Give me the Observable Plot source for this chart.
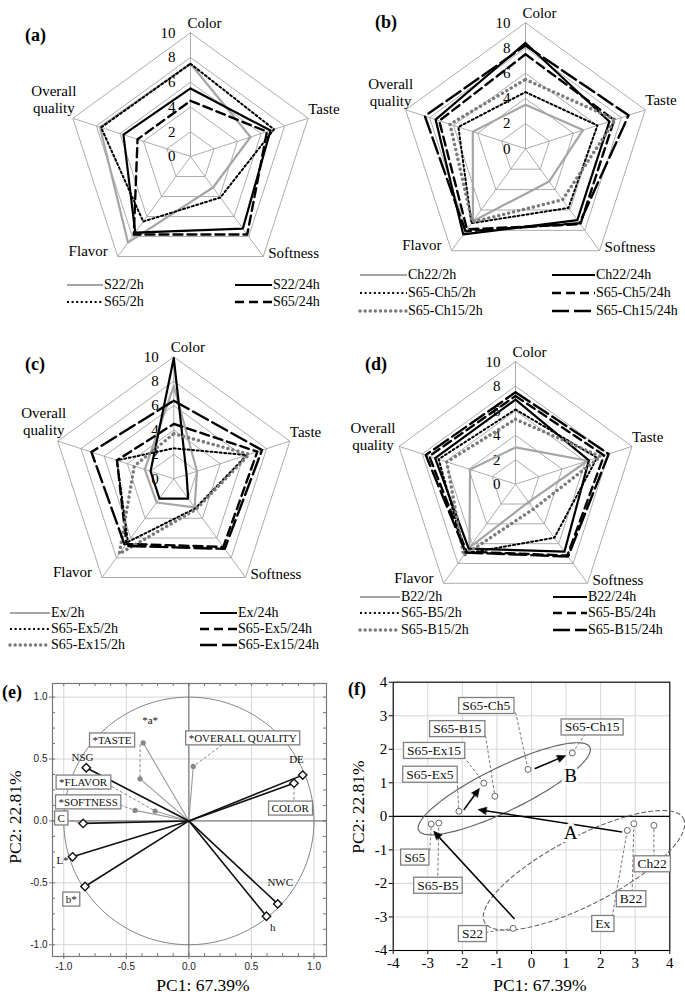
<!DOCTYPE html>
<html><head><meta charset="utf-8">
<script src="https://cdn.jsdelivr.net/npm/d3@7"></script>
<script src="https://cdn.jsdelivr.net/npm/@observablehq/plot@0.6"></script>
<style>
body{margin:0;background:#fff;}
#page{position:relative;width:685px;height:997px;overflow:hidden;font-family:'Liberation Serif','Times New Roman',serif;color:#000;}
.panel{position:absolute;}
.plabel{position:absolute;font-weight:bold;font-size:18px;line-height:18px;}
.leg{position:absolute;font-size:14px;line-height:18px;white-space:nowrap;}
.axlab{position:absolute;font-size:17.5px;line-height:20px;white-space:nowrap;transform:translate(-50%,-50%);}
</style></head><body><div id="page"></div>
<script>
// ---------------- DATA ----------------
const attributes = ["Color", "Taste", "Softness", "Flavor", "Overall quality"];
const ringValues = [2, 4, 6, 8, 10];
const radialTicks = [0, 2, 4, 6, 8, 10];

// (a) values per attribute [Color, Taste, Softness, Flavor, Overall quality]
const namesA = ["S22/2h", "S22/24h", "S65/2h", "S65/24h"];
const S22_2h = [7.5, 5.1, 3.1, 8.6, 7.7];
const S22_24h = [5.5, 6.8, 7.2, 7.6, 5.7];
const S65_2h = [7.5, 7.1, 4.1, 6.5, 7.6];
const S65_24h = [4.5, 6.5, 7.8, 7.8, 4.5];

// (b)
const namesB = ["Ch22/2h", "Ch22/24h", "S65-Ch5/2h", "S65-Ch5/24h", "S65-Ch15/2h", "S65-Ch15/24h"];
const Ch22_2h = [3.5, 4.8, 3.2, 7.1, 4.4];
const Ch22_24h = [8.4, 7.0, 7.0, 8.4, 7.5];
const S65Ch5_2h = [4.5, 6.0, 5.8, 7.3, 5.6];
const S65Ch5_24h = [7.5, 7.4, 7.4, 7.9, 7.2];
const S65Ch15_2h = [5.5, 7.5, 5.0, 7.2, 6.3];
const S65Ch15_24h = [8.2, 8.6, 7.3, 8.1, 8.4];

// (c)
const namesC = ["Ex/2h", "Ex/24h", "S65-Ex5/2h", "S65-Ex5/24h", "S65-Ex15/2h", "S65-Ex15/24h"];
const Ex_2h = [7.6, 2.0, 2.9, 2.4, 2.5];
const Ex_24h = [9.9, 1.1, 2.0, 2.0, 2.0];
const S65Ex5_2h = [2.5, 6.3, 3.0, 6.4, 4.9];
const S65Ex5_24h = [4.5, 7.2, 6.9, 6.6, 4.9];
const S65Ex15_2h = [3.7, 6.5, 3.1, 7.6, 3.4];
const S65Ex15_24h = [6.4, 7.6, 7.1, 6.8, 7.1];

// (d)
const namesD = ["B22/2h", "B22/24h", "S65-B5/2h", "S65-B5/24h", "S65-B15/2h", "S65-B15/24h"];
const B22_2h = [3.0, 6.2, 1.8, 6.4, 3.9];
const B22_24h = [6.9, 6.3, 6.8, 6.5, 6.9];
const S65B5_2h = [6.1, 7.0, 5.4, 7.0, 6.6];
const S65B5_24h = [7.2, 7.6, 7.2, 6.8, 7.4];
const S65B15_2h = [5.3, 7.3, 2.5, 7.2, 5.9];
const S65B15_24h = [7.5, 8.0, 7.3, 6.9, 7.7];

// (e) PCA loadings
const loadNames = ["NSG", "C", "L*", "b*", "DE", "COLOR", "NWC", "h"];
const loadPC1 = [-0.82, -0.845, -0.93, -0.83, 0.91, 0.84, 0.71, 0.62];
const loadPC2 = [0.43, -0.02, -0.29, -0.53, 0.37, 0.305, -0.67, -0.77];
const suppNames = ["*a*", "*TASTE", "*FLAVOR", "*SOFTNESS", "*OVERALL QUALITY"];
const suppPC1 = [-0.365, -0.39, -0.27, -0.43, 0.035];
const suppPC2 = [0.63, 0.34, 0.08, 0.085, 0.44];
const ticksE = [-1, -0.5, 0, 0.5, 1];
const minorTicksE = [-1, -0.875, -0.75, -0.625, -0.5, -0.375, -0.25, -0.125, 0, 0.125, 0.25, 0.375, 0.5, 0.625, 0.75, 0.875, 1];

// (f) PCA scores
const sampleNames = ["S22", "S65", "S65-B5", "S65-Ex5", "S65-Ex15", "S65-B15", "S65-Ch5", "S65-Ch15", "Ex", "B22", "Ch22"];
const scorePC1 = [-0.53, -2.9, -2.68, -2.1, -1.38, -1.06, -0.1, 1.18, 2.77, 2.96, 3.54];
const scorePC2 = [-3.34, -0.23, -0.2, 0.15, 0.99, 0.6, 1.4, 1.89, -0.42, -0.22, -0.27];
const ticksF = [-4, -3, -2, -1, 0, 1, 2, 3, 4];
const groupLabels = ["A", "B"];

// ---------------- LAYOUT (positions, not data) ----------------
const loadLabelX = [-0.85, -1.02, -1.01, -0.94, 0.86, 0.81, 0.73, 0.67];
const loadLabelY = [0.51, 0.02, -0.32, -0.635, 0.50, 0.10, -0.50, -0.86];
const loadBoxed = [false, true, false, true, false, true, false, false];
const loadLeadX = [null, -0.98, null, null, null, 0.84, null, null];
const loadLeadY = [null, 0.01, null, null, null, 0.13, null, null];
const suppLabelX = [-0.31, -0.615, -0.845, -0.805, 0.43];
const suppLabelY = [0.81, 0.65, 0.31, 0.15, 0.667];
const suppBoxed = [false, true, true, true, true];
const suppLeadX = [null, -0.39, -0.62, -0.55, 0.30];
const suppLeadY = [null, 0.62, 0.28, 0.13, 0.64];

const sampLabelX = [-1.71, -3.38, -2.71, -2.94, -2.82, -2.15, -1.31, 1.75, 2.06, 2.88, 3.49];
const sampLabelY = [-3.5, -1.22, -2.06, 1.25, 1.96, 2.61, 3.30, 2.66, -3.2, -2.46, -1.42];
const sampLeadX = [-1.33, -2.94, -2.71, -2.15, -1.96, -1.33, -0.46, 1.56, 2.33, 2.91, 3.54];
const sampLeadY = [-3.46, -1.02, -1.77, 1.07, 1.78, 2.41, 3.1, 2.46, -3.01, -2.26, -1.22];
const arrowX1 = [-0.49, 2.62, -1.96, 0.09];
const arrowY1 = [-3.06, -0.47, 0.19, 1.42];
const arrowX2 = [-2.78, -1.47, -1.55, 0.92];
const arrowY2 = [-0.5, 0.19, 0.77, 1.78];
const groupLabelX = [1.13, 1.13];
const groupLabelY = [-0.5, 1.2];
// ellipses: center, two conjugate half-axes (data units)
const ellCx = [1.52, -0.787], ellCy = [-1.61, 0.822];
const ellUx = [2.88, 2.475], ellUy = [1.54, 1.24];
const ellVx = [0.452, 0.279], ellVy = [-0.90, -0.59];

const lineStyles = [
  {stroke: "#a5a5a5", strokeWidth: 2.2},
  {stroke: "#000000", strokeWidth: 2.2},
  {stroke: "#000000", strokeWidth: 2, strokeDasharray: "2,2.6"},
  {stroke: "#000000", strokeWidth: 2.4, strokeDasharray: "9,5"},
  {stroke: "#7a7a7a", strokeWidth: 3.4, strokeDasharray: "0.1,5", strokeLinecap: "round"},
  {stroke: "#000000", strokeWidth: 2.4, strokeDasharray: "17,5"}
];
const serif = "'Liberation Serif', 'Times New Roman', serif";
const sans = "'Liberation Sans', Arial, sans-serif";

const page = document.getElementById("page");
function place(node, left, top) {
  const d = document.createElement("div");
  d.className = "panel";
  d.style.left = left + "px"; d.style.top = top + "px";
  d.appendChild(node); page.appendChild(d);
  return node;
}
function html(s) { page.insertAdjacentHTML("beforeend", s); }

// ---------------- RADAR ----------------
function radarPlot(p) {
  const k = p.R / 10;
  const ang = i => (90 - 72 * i) * Math.PI / 180;
  const px = (v, i) => v * Math.cos(ang(i));
  const py = (v, i) => v * Math.sin(ang(i));
  const loop = [0, 1, 2, 3, 4, 0];
  const ringPts = ringValues.flatMap(v => loop.map(i => ({ring: v, x: px(v, i), y: py(v, i)})));
  const marks = [
    Plot.line(ringPts, {x: "x", y: "y", z: "ring", stroke: "#a3a3a3", strokeWidth: 0.9}),
    Plot.link(attributes, {x1: () => 0, y1: () => 0, x2: (d, i) => px(10, i), y2: (d, i) => py(10, i), stroke: "#a3a3a3", strokeWidth: 0.9}),
    Plot.text(radialTicks, {x: () => 0, y: d => d, text: d => String(d), textAnchor: "end", dx: -15, fontSize: 15, fontFamily: serif})
  ];
  const lab = [
    {i: 0, dx: 14, dy: -10, a: "middle"},
    {i: 1, dx: 0, dy: -10, a: "start"},
    {i: 2, dx: 5, dy: -4, a: "start"},
    {i: 3, dx: -10, dy: -6, a: "end"},
    {i: 4, dx: p.oqdx, dy: p.oqdy, a: "middle"}
  ];
  lab.forEach(l => marks.push(Plot.text([attributes[l.i]], {
    x: () => px(10, l.i), y: () => py(10, l.i), text: d => d.replace(" ", "\n"),
    textAnchor: l.a, dx: l.dx, dy: l.dy, fontSize: 15, lineHeight: 1.15, fontFamily: serif
  })));
  p.values.forEach((vals, s) => {
    const pts = loop.map(i => ({x: px(vals[i], i), y: py(vals[i], i)}));
    marks.push(Plot.line(pts, {x: "x", y: "y", ...lineStyles[s]}));
  });
  return Plot.plot({
    width: p.width, height: p.height, margin: 0,
    x: {domain: [-p.cx / k, (p.width - p.cx) / k], axis: null},
    y: {domain: [-(p.height - p.cy) / k, p.cy / k], axis: null},
    style: {fontFamily: serif, fontSize: "15px", background: "transparent", overflow: "visible", color: "#000"},
    marks
  });
}
function addLegend(names, g) {
  names.forEach((name, s) => {
    const col = s % 2, row = Math.floor(s / 2);
    const [x0, x1] = col === 0 ? g.left : g.right;
    const y = g.rows[row];
    const st = lineStyles[s];
    html(`<svg width="${x1 - x0}" height="10" style="position:absolute;left:${x0}px;top:${y - 5}px;overflow:visible"><line x1="0" y1="5" x2="${x1 - x0}" y2="5" stroke="${st.stroke}" stroke-width="${st.strokeWidth}" ${st.strokeDasharray ? `stroke-dasharray="${st.strokeDasharray}"` : ""} ${st.strokeLinecap ? `stroke-linecap="${st.strokeLinecap}"` : ""}/></svg>`);
    html(`<div class="leg" style="left:${x1 + 1}px;top:${y - 9}px">${name}</div>`);
  });
}

place(radarPlot({width: 342, height: 272, cx: 190, cy: 156, R: 123.7, oqdx: -19, oqdy: -19,
  values: [S22_2h, S22_24h, S65_2h, S65_24h]}), 0, 0);
addLegend(namesA, {left: [67, 103], right: [235, 272], rows: [285, 302]});

place(radarPlot({width: 343, height: 265, cx: 183, cy: 148.3, R: 126, oqdx: -15, oqdy: -18,
  values: [Ch22_2h, Ch22_24h, S65Ch5_2h, S65Ch5_24h, S65Ch15_2h, S65Ch15_24h]}), 342, 0);
addLegend(namesB, {left: [360, 407], right: [552, 595], rows: [275, 293, 311]});

place(radarPlot({width: 342, height: 280, cx: 173.3, cy: 153.3, R: 122, oqdx: -14, oqdy: -20,
  values: [Ex_2h, Ex_24h, S65Ex5_2h, S65Ex5_24h, S65Ex15_2h, S65Ex15_24h]}), 0, 325);
addLegend(namesC, {left: [10, 50], right: [200, 237], rows: [613, 629, 645]});

place(radarPlot({width: 343, height: 265, cx: 173, cy: 153.7, R: 122.5, oqdx: -26, oqdy: -10,
  values: [B22_2h, B22_24h, S65B5_2h, S65B5_24h, S65B15_2h, S65B15_24h]}), 342, 330);
addLegend(namesD, {left: [360, 400], right: [553, 587], rows: [597, 613, 630]});

// ---------------- helpers for PCA ----------------
function boxify(svg, names, padX, padY, stroke) {
  const set = new Set(names);
  svg.querySelectorAll("text").forEach(t => {
    if (!set.has(t.textContent)) return;
    const b = t.getBBox();
    const r = document.createElementNS("http://www.w3.org/2000/svg", "rect");
    r.setAttribute("x", b.x - padX); r.setAttribute("y", b.y - padY);
    r.setAttribute("width", b.width + 2 * padX); r.setAttribute("height", b.height + 2 * padY);
    if (t.getAttribute("transform")) r.setAttribute("transform", t.getAttribute("transform"));
    r.setAttribute("fill", "white"); r.setAttribute("stroke", stroke); r.setAttribute("stroke-width", "1.3");
    t.parentNode.insertBefore(r, t);
  });
}
const fmtE = d => (d < 0 ? "-" : "") + Math.abs(d).toFixed(1);
const fmtF = d => (d < 0 ? "-" : "") + Math.abs(d);

// ---------------- (e) ----------------
const loadings = loadNames.map((n, i) => ({n, x: loadPC1[i], y: loadPC2[i], lx: loadLabelX[i], ly: loadLabelY[i], boxed: loadBoxed[i], ax: loadLeadX[i], ay: loadLeadY[i]}));
const supp = suppNames.map((n, i) => ({n, x: suppPC1[i], y: suppPC2[i], lx: suppLabelX[i], ly: suppLabelY[i], boxed: suppBoxed[i], ax: suppLeadX[i], ay: suppLeadY[i]}));
const circle = d3.range(0, 361, 2).map(a => ({x: Math.cos(a * Math.PI / 180), y: Math.sin(a * Math.PI / 180)}));
const leadersE = [...loadings, ...supp].filter(d => d.ax !== null);
const allLabE = [...loadings, ...supp];

const plotE = Plot.plot({
  width: 342, height: 337, marginLeft: 52, marginRight: 16, marginTop: 23, marginBottom: 41,
  x: {domain: [-1.09, 1.10]}, y: {domain: [-1.095, 1.11]},
  style: {fontFamily: sans, fontSize: "10px", background: "transparent", overflow: "visible", color: "#222"},
  marks: [
    Plot.gridX(ticksE.filter(d => d !== 0), {stroke: "#d4d4d4", strokeOpacity: 1}),
    Plot.gridY(ticksE.filter(d => d !== 0), {stroke: "#d4d4d4", strokeOpacity: 1}),
    Plot.tickX(minorTicksE, {insetTop: 270, stroke: "#777"}),
    Plot.tickX(minorTicksE, {insetBottom: 270, stroke: "#777"}),
    Plot.tickY(minorTicksE, {insetRight: 271, stroke: "#777"}),
    Plot.tickY(minorTicksE, {insetLeft: 271, stroke: "#777"}),
    Plot.frame({stroke: "#777", strokeWidth: 1.2}),
    Plot.axisX({ticks: ticksE, tickSize: 3, tickPadding: 3, tickFormat: fmtE, label: null, stroke: "#777", fontFamily: sans}),
    Plot.axisY({ticks: ticksE, tickSize: 3, tickPadding: 2, tickFormat: fmtE, label: null, stroke: "#777", fontFamily: sans}),
    Plot.ruleX([0], {stroke: "#555"}),
    Plot.ruleY([0], {stroke: "#555"}),
    Plot.line(circle, {x: "x", y: "y", stroke: "#777", strokeWidth: 0.9}),
    Plot.link(leadersE, {x1: "ax", y1: "ay", x2: "x", y2: "y", stroke: "#888", strokeWidth: 1, strokeDasharray: "3,2"}),
    Plot.link(supp, {x1: () => 0, y1: () => 0, x2: "x", y2: "y", stroke: "#999", strokeWidth: 1.1}),
    Plot.link(loadings, {x1: () => 0, y1: () => 0, x2: "x", y2: "y", stroke: "#111", strokeWidth: 1.6}),
    Plot.dot(supp, {x: "x", y: "y", r: 2.6, fill: "#888"}),
    Plot.dot(loadings, {x: "x", y: "y", symbol: "diamond2", r: 3.8, fill: "white", stroke: "#111", strokeWidth: 1.4}),
    Plot.text(allLabE, {x: "lx", y: "ly", text: "n", fontFamily: serif, fontSize: 11, fill: "#111"})
  ]
});
place(plotE, 0, 660);
boxify(plotE, allLabE.filter(d => d.boxed).map(d => d.n), 3, 1, "#808080");

// ---------------- (f) ----------------
const samples = sampleNames.map((n, i) => ({n, x: scorePC1[i], y: scorePC2[i], lx: sampLabelX[i], ly: sampLabelY[i], ax: sampLeadX[i], ay: sampLeadY[i]}));
const arrows = arrowX1.map((d, i) => ({x1: d, y1: arrowY1[i], x2: arrowX2[i], y2: arrowY2[i]}));
const ellPts = g => d3.range(0, 361, 3).map(a => {
  const t = a * Math.PI / 180;
  return {x: ellCx[g] + Math.cos(t) * ellUx[g] + Math.sin(t) * ellVx[g], y: ellCy[g] + Math.cos(t) * ellUy[g] + Math.sin(t) * ellVy[g]};
});
const groups = groupLabels.map((n, i) => ({n, x: groupLabelX[i], y: groupLabelY[i]}));

const plotF = Plot.plot({
  width: 343, height: 337, marginLeft: 50.7, marginRight: 15.7, marginTop: 21.7, marginBottom: 47,
  x: {domain: [-4, 4]}, y: {domain: [-4, 4]},
  style: {fontFamily: serif, fontSize: "15px", background: "transparent", overflow: "visible", color: "#000"},
  marks: [
    Plot.gridX(ticksF, {stroke: "#d8d8d8", strokeOpacity: 1}),
    Plot.gridY(ticksF, {stroke: "#d8d8d8", strokeOpacity: 1}),
    Plot.frame({stroke: "#000", strokeWidth: 1.1}),
    Plot.axisX({ticks: ticksF, tickSize: 4, tickPadding: 3, tickFormat: fmtF, label: null, fontFamily: serif}),
    Plot.axisY({ticks: ticksF, tickSize: 4, tickPadding: 2, tickFormat: fmtF, label: null, fontFamily: serif}),
    Plot.ruleY([0], {stroke: "#000", strokeWidth: 1.2}),
    Plot.line(ellPts(0), {x: "x", y: "y", stroke: "#666", strokeWidth: 1.1, strokeDasharray: "4,3"}),
    Plot.line(ellPts(1), {x: "x", y: "y", stroke: "#666", strokeWidth: 1.2}),
    Plot.link(samples, {x1: "ax", y1: "ay", x2: "x", y2: "y", stroke: "#777", strokeWidth: 1, strokeDasharray: "3,2"}),
    Plot.link(arrows, {x1: "x1", y1: "y1", x2: "x2", y2: "y2", stroke: "#000", strokeWidth: 1.5, markerEnd: "arrow"}),
    Plot.dot(samples, {x: "x", y: "y", r: 3, stroke: "#666", strokeWidth: 1, fill: "white"}),
    Plot.text(groups, {x: "x", y: "y", text: "n", fontSize: 19, fill: "#000", stroke: "white", strokeWidth: 6, paintOrder: "stroke", fontFamily: serif}),
    Plot.text(samples, {x: "lx", y: "ly", text: "n", fontSize: 13.5, fill: "#111", fontFamily: serif})
  ]
});
place(plotF, 342, 660);
boxify(plotF, sampleNames, 3.5, 0.5, "#808080");
plotF.querySelectorAll("marker").forEach(m => {
  m.setAttribute("fill", "#000");
  m.style.overflow = "visible";
  const p = m.querySelector("path");
  if (p) { p.setAttribute("d", "M-5.5,-3.6L2.5,0L-5.5,3.6Z"); p.setAttribute("stroke-width", "0.6"); }
});

// ---------------- text outside the plots ----------------
[["(a)", 25, 40], ["(b)", 375, 27], ["(c)", 25, 369], ["(d)", 365, 369], ["(e)", 2, 697], ["(f)", 348, 694]]
  .forEach(([t, x, y]) => html(`<div class="plabel" style="left:${x}px;top:${y - 14}px">${t}</div>`));
html(`<div class="axlab" style="left:203px;top:985px">PC1: 67.39%</div>`);
html(`<div class="axlab" style="left:15px;top:817px;transform:translate(-50%,-50%) rotate(-90deg)">PC2: 22.81%</div>`);
html(`<div class="axlab" style="left:540px;top:985px">PC1: 67.39%</div>`);
html(`<div class="axlab" style="left:358px;top:807px;transform:translate(-50%,-50%) rotate(-90deg)">PC2: 22.81%</div>`);
</script></body></html>
